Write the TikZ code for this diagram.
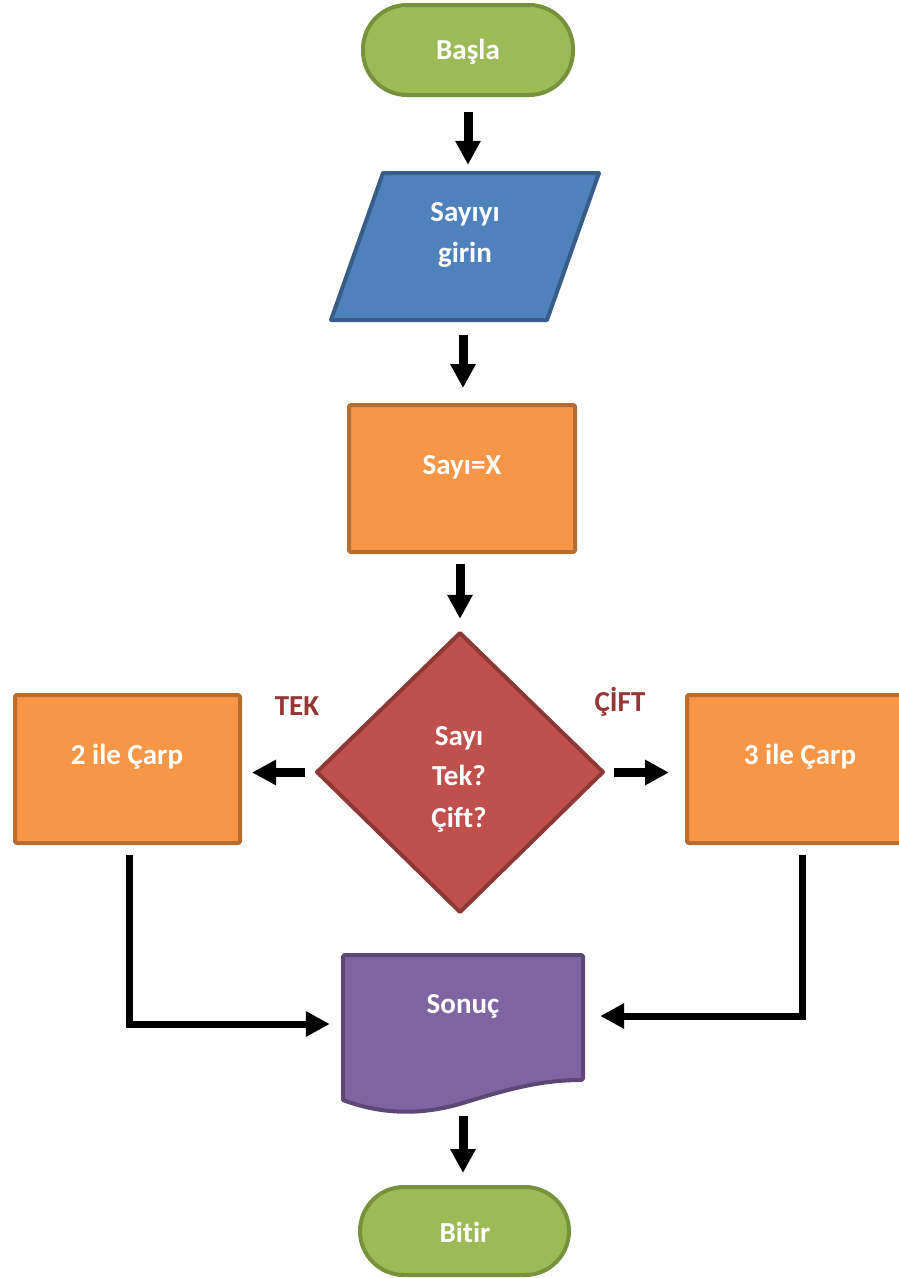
\documentclass[tikz,border=0pt]{standalone}
\usepackage{fontspec}
\setmainfont[Ligatures={NoCommon}]{Carlito}
\usetikzlibrary{arrows.meta,calc}
\definecolor{gfill}{HTML}{9BBB59}\definecolor{gline}{HTML}{76923C}
\definecolor{bfill}{HTML}{4F81BD}\definecolor{bline}{HTML}{385D8A}
\definecolor{ofill}{HTML}{F79646}\definecolor{oline}{HTML}{B66D31}
\definecolor{rfill}{HTML}{C0504D}\definecolor{rline}{HTML}{8C3836}
\definecolor{pfill}{HTML}{8064A2}\definecolor{pline}{HTML}{5C4776}
\definecolor{lblred}{HTML}{953735}
\begin{document}
\begin{tikzpicture}[x=1pt,y=-1pt,
  shapeline/.style={line width=4pt,line join=round},
  term/.style={shapeline,draw=gline,fill=gfill,rounded corners=44pt,minimum width=210pt,minimum height=90pt,inner sep=0pt},
  procbox/.style={shapeline,draw=oline,fill=ofill,rounded corners=2pt,minimum width=226pt,minimum height=147pt,inner sep=0pt},
  ghost/.style={inner sep=0pt},
  txt/.style={text=white,font=\fontsize{29}{34}\selectfont\bfseries,anchor=base,inner sep=0pt},
  lbl/.style={text=lblred,font=\fontsize{29}{34}\selectfont\bfseries,anchor=base,inner sep=0pt},
  arr/.style={line width=9pt,-{Triangle[width=24pt,length=24pt]}},
  conn/.style={line width=7pt,line join=miter,-{Triangle[width=24pt,length=24pt]}}]
\useasboundingbox (0,0) rectangle (899,1278);
\clip (0,0) rectangle (899,1278);
% shapes
\node[term] (start) at (468,50) {};
\fill[bfill,draw=bline,shapeline] (383,173) -- (599,173) -- (547,320) -- (331,320) -- cycle;
\node[ghost,minimum width=268pt,minimum height=147pt] (input) at (465,246.5) {};
\node[procbox] (calc) at (462,478.5) {};
\fill[rfill,draw=rline,shapeline] (460,633) -- (603,772) -- (460,912) -- (317,772) -- cycle;
\node[ghost,minimum width=286pt,minimum height=279pt] (dec) at (460,772.5) {};
\node[procbox,minimum width=225pt,minimum height=148pt] (left) at (127.5,769) {};
\node[procbox,minimum width=225pt,minimum height=148pt] (right) at (799.5,769) {};
\filldraw[pfill,draw=pline,shapeline,rounded corners=2pt] (343,1100) -- (343,955) -- (583,955) -- (583,1080)
  [sharp corners] .. controls (540,1080) and (505,1090) .. (463,1103) .. controls (420,1116) and (380,1114) .. (343,1100) -- cycle;
\node[ghost,minimum width=240pt,minimum height=148pt] (res) at (463,1029) {};
\node[term,minimum width=209pt,minimum height=88pt] (end) at (464.5,1231) {};
% texts
\node[txt] (tstart) at (468,59) {Başla};
\node[txt] (tin1) at (465,221) {Sayıyı};
\node[txt] (tin2) at (465,262) {girin};
\node[txt] (tcalc) at (462,474) {Sayı=X};
\node[txt] (tdec1) at (459,745) {Sayı};
\node[txt] (tdec2) at (459,785) {Tek?};
\node[txt] (tdec3) at (459,827) {Çift?};
\node[txt] (tleft) at (127,764) {2 ile Çarp};
\node[txt] (tright) at (800,764) {3 ile Çarp};
\node[txt] (tres) at (463,1013) {Sonuç};
\node[txt] (tend) at (465,1242) {Bitir};
\node[lbl] (ltek) at (297,715) {TEK};
\node[lbl] (lcift) at (620,711) {ÇİFT};
% connectors
\draw[arr] ($(start.south)+(0,15)$) -- ($(start.south |- input.north)+(0,-8)$);
\draw[arr] ($(input.south -| calc.north)+(1,15)$) -- ($(calc.north)+(1,-15)$);
\draw[arr] ($(calc.south -| dec.north)+(0,10)$) -- ($(dec.north)+(0,-14)$);
\draw[arr] ($(dec.west)+(-12,0)$) -- ($(dec.west -| left.east)+(10,0)$);
\draw[arr] ($(dec.east)+(11,0)$) -- ($(dec.east -| right.west)+(-16,0)$);
\draw[conn] ($(left.south)+(1.5,10)$) |- ($(res.west)+(-13,-5)$);
\draw[conn] ($(right.south)+(2.5,10)$) |- ($(res.east)+(17,-13)$);
\draw[arr] ($(end.north)+(-1.5,-69)$) -- ($(end.north)+(-1.5,-12)$);
\end{tikzpicture}
\end{document}
